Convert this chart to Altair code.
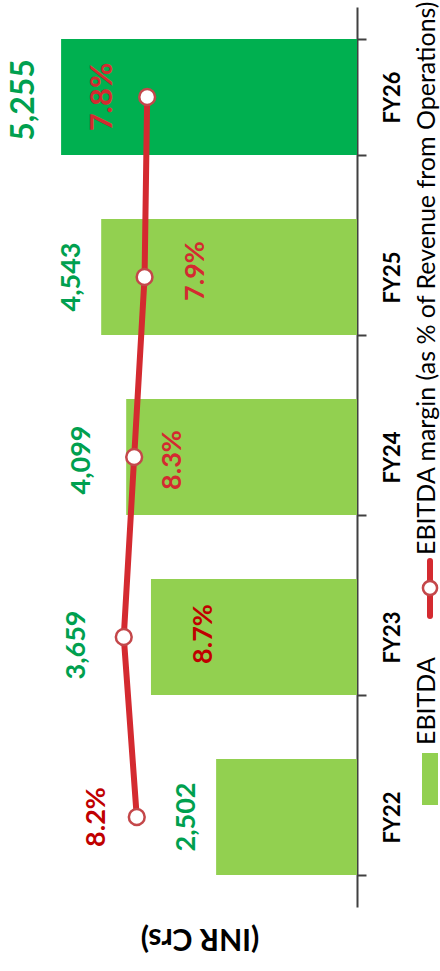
import altair as alt
import pandas as pd

# EBITDA (INR Crs) and EBITDA margin (% of revenue from operations)
years = ["FY22", "FY23", "FY24", "FY25", "FY26"]
ebitda = [2502, 3659, 4099, 4543, 5255]
margin_pct = [8.2, 8.7, 8.3, 7.9, 7.8]

legend_bar = "EBITDA"
legend_line = "EBITDA margin (as % of Revenue from Operations)"
unit_note = "(INR Crs)"

FONT = "Lato"
LIGHT_GREEN = "#92D050"
DARK_GREEN = "#00B050"
VALUE_GREEN = "#00A04F"
LINE_RED = "#D42A30"
DOT_RED = "#C4474A"
AXIS_GREY = "#404040"

df = pd.DataFrame({"year": years, "ebitda": ebitda, "margin": margin_pct})
df["idx"] = range(len(df))
df["ebitda_label"] = df["ebitda"].map(lambda v: f"{v:,}")
df["margin_label"] = df["margin"].map(lambda v: f"{v:.1f}%")

order = list(reversed(years))  # latest year on top

y_enc = alt.Y(
    "year:N",
    sort=order,
    scale=alt.Scale(paddingInner=0.356, paddingOuter=0.178),
    axis=alt.Axis(
        orient="right", title=None, grid=False,
        labelAngle=270, labelAlign="center", labelBaseline="middle",
        labelFont=FONT, labelFontSize=22, labelFontWeight="bold",
        labelColor="black", labelPadding=26, labelOverlap=False,
        tickBand="extent", tickSize=9, tickWidth=2, tickColor=AXIS_GREY,
        domainColor=AXIS_GREY, domainWidth=2,
    ),
)

bar_x = alt.X("ebitda:Q", scale=alt.Scale(domain=[0, 6340], reverse=True, nice=False), axis=None)
pct_x = alt.X("margin:Q", scale=alt.Scale(domain=[-0.27, 13.46], reverse=True, nice=False, zero=False), axis=None)

base = alt.Chart(df)

bars = base.mark_bar().encode(
    x=bar_x,
    y=y_enc,
    color=alt.condition(alt.datum.year == years[-1], alt.value(DARK_GREEN), alt.value(LIGHT_GREEN)),
)

# Per-label nudges in the rotated text frame (dx runs upward, dy runs rightward)
value_style = {
    "FY22": dict(dx=0, dy=-29, fontSize=27),
    "FY23": dict(dx=-8, dy=-74, fontSize=27),
    "FY24": dict(dx=-3, dy=-44, fontSize=27),
    "FY25": dict(dx=0, dy=-29, fontSize=27),
    "FY26": dict(dx=-3, dy=-37, fontSize=32),
}
pct_style = {
    "FY22": dict(dx=0, dy=-40, fontSize=27, color="#C00000"),
    "FY23": dict(dx=3, dy=80, fontSize=27, color="#C00000"),
    "FY24": dict(dx=-3, dy=39, fontSize=27, color=LINE_RED),
    "FY25": dict(dx=6, dy=51, fontSize=27, color=LINE_RED),
    "FY26": dict(dx=0, dy=-44, fontSize=31, color=LINE_RED),
}

value_labels = [
    base.transform_filter(alt.datum.year == yr).mark_text(
        angle=270, align="center", baseline="middle", font=FONT,
        fontWeight="bold", color=VALUE_GREEN, **value_style[yr]
    ).encode(x=bar_x, y=y_enc, text="ebitda_label:N")
    for yr in years
]

line = base.mark_line(color=LINE_RED, strokeWidth=6).encode(
    x=pct_x, y=y_enc, order=alt.Order("idx:Q")
)
dots = base.mark_circle(size=250, fill="white", stroke=DOT_RED, strokeWidth=2.5, opacity=1).encode(
    x=pct_x, y=y_enc
)

pct_labels = [
    base.transform_filter(alt.datum.year == yr).mark_text(
        angle=270, align="center", baseline="middle", font=FONT,
        fontWeight="bold", **pct_style[yr]
    ).encode(x=pct_x, y=y_enc, text="margin_label:N")
    for yr in years
]

# Legend, drawn sideways to the right of the category axis
one = alt.Chart(pd.DataFrame({"k": [0]}))
leg_swatch = one.mark_rect(color=LIGHT_GREEN).encode(
    x=alt.value(422), x2=alt.value(438), y=alt.value(746), y2=alt.value(798)
)
leg_bar_text = one.mark_text(
    angle=270, align="left", baseline="alphabetic", font=FONT, fontSize=25, color="black"
).encode(x=alt.value(435), y=alt.value(738), text=alt.value(legend_bar))
leg_rule = one.mark_rule(color=LINE_RED, strokeWidth=6, strokeCap="round").encode(
    x=alt.value(430), y=alt.value(554), y2=alt.value(609)
)
leg_dot = one.mark_circle(size=200, fill="white", stroke=DOT_RED, strokeWidth=2.5, opacity=1).encode(
    x=alt.value(430), y=alt.value(581)
)
leg_line_text = one.mark_text(
    angle=270, align="left", baseline="alphabetic", font=FONT, fontSize=25, color="black"
).encode(x=alt.value(435), y=alt.value(548), text=alt.value(legend_line))

unit_text = one.mark_text(
    angle=180, align="center", baseline="middle", font=FONT, fontSize=30,
    fontWeight="bold", color="black"
).encode(x=alt.value(200), y=alt.value(931), text=alt.value(unit_note))

chart = alt.layer(
    bars, *value_labels, line, dots, *pct_labels,
    leg_swatch, leg_bar_text, leg_rule, leg_dot, leg_line_text, unit_text,
).resolve_scale(x="independent").properties(
    width=357, height=900,
    autosize=alt.AutoSizeParams(type="none"),
    padding={"left": 0, "top": 7, "right": 83, "bottom": 64},
).configure_view(stroke=None)

chart.save("out.html", embed_options={"renderer": "svg", "actions": False})
